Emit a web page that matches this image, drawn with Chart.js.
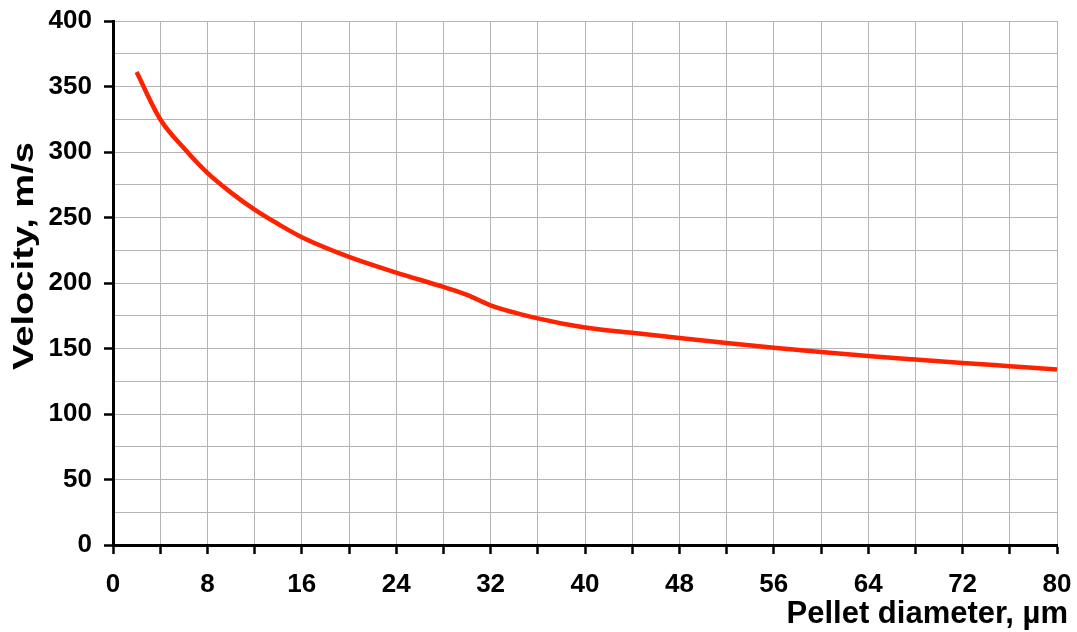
<!DOCTYPE html>
<html>
<head>
<meta charset="utf-8">
<script src="https://cdn.jsdelivr.net/npm/chart.js@4.4.1/dist/chart.umd.min.js"></script>
<style>
  html, body { margin: 0; padding: 0; background: #fff; }
  #wrap { width: 1077px; height: 632px; position: relative; }
</style>
</head>
<body>
<div id="wrap"><canvas id="velocityChart"></canvas></div>
<script>
// pellet diameter (µm) and velocity (m/s)
const diameters = [2, 4, 6, 8, 10, 12, 14, 16, 20, 24, 28, 30, 32, 36, 40, 44, 48, 52, 56, 60, 64, 68, 72, 76, 80];
const velocities = [361, 325, 303, 284, 269, 256, 245, 235, 220, 208, 197, 191, 183, 173, 166, 162, 158, 154.2, 150.6, 147.3, 144.3, 141.6, 139, 136.5, 134];

const xTitle = 'Pellet diameter, µm';
const yTitle = 'Velocity, m/s';
const FONT = "'Liberation Sans', Arial, sans-serif";

// both axis titles are placed off-centre in the original, so draw them ourselves
// (the y title is drawn a bit stretched along its length, as in the source)
const axisTitles = {
  id: 'axisTitles',
  afterDraw(chart) {
    const ctx = chart.ctx;
    ctx.save();
    ctx.font = 'bold 31px ' + FONT;
    ctx.fillStyle = '#000';
    ctx.textBaseline = 'alphabetic';
    ctx.textAlign = 'right';
    ctx.fillText(xTitle, 1068, 623);
    ctx.restore();

    ctx.save();
    ctx.font = 'bold 30px ' + FONT;
    ctx.fillStyle = '#000';
    ctx.translate(33, 256);
    ctx.rotate(-Math.PI / 2);
    ctx.scale(1.27, 1);
    ctx.textAlign = 'center';
    ctx.textBaseline = 'alphabetic';
    ctx.fillText(yTitle, 0, 0);
    ctx.restore();
  }
};

const ctx = document.getElementById('velocityChart').getContext('2d');
new Chart(ctx, {
  type: 'line',
  data: {
    datasets: [{
      data: diameters.map((d, i) => ({ x: d, y: velocities[i] })),
      borderColor: '#ff2200',
      borderWidth: 4.5,
      pointRadius: 0,
      cubicInterpolationMode: 'monotone',
      fill: false
    }]
  },
  options: {
    responsive: true,
    maintainAspectRatio: false,
    animation: false,
    layout: { padding: { top: 21, right: 20, left: 0, bottom: 0 } },
    plugins: {
      legend: { display: false },
      tooltip: { enabled: false }
    },
    scales: {
      x: {
        type: 'linear',
        min: 0,
        max: 80,
        afterFit: (s) => { s.height = 87; s.paddingLeft = 0; s.paddingRight = 0; },
        ticks: {
          stepSize: 4,
          autoSkip: false,
          maxRotation: 0,
          padding: 15,
          color: '#000',
          font: { family: FONT, size: 26, weight: 'bold' },
          callback: (v) => (v % 8 === 0 ? v : '')
        },
        grid: {
          color: '#b4b4b4',
          lineWidth: 1,
          tickColor: '#000',
          tickLength: 9,
          tickWidth: 2.5
        },
        border: { color: '#000', width: 3 }
      },
      y: {
        min: 0,
        max: 400,
        afterFit: (s) => { s.width = 113; s.paddingTop = 0; s.paddingBottom = 0; },
        ticks: {
          stepSize: 25,
          autoSkip: false,
          padding: 12,
          color: '#000',
          font: { family: FONT, size: 26, weight: 'bold' },
          callback: (v) => (v % 50 === 0 ? v : '')
        },
        grid: {
          color: '#b4b4b4',
          lineWidth: 1,
          tickColor: (c) => (c.tick && c.tick.value % 50 === 0 ? '#000' : 'rgba(0,0,0,0)'),
          tickLength: 9,
          tickWidth: 2.5
        },
        border: { color: '#000', width: 3 }
      }
    }
  },
  plugins: [axisTitles]
});
</script>
</body>
</html>
